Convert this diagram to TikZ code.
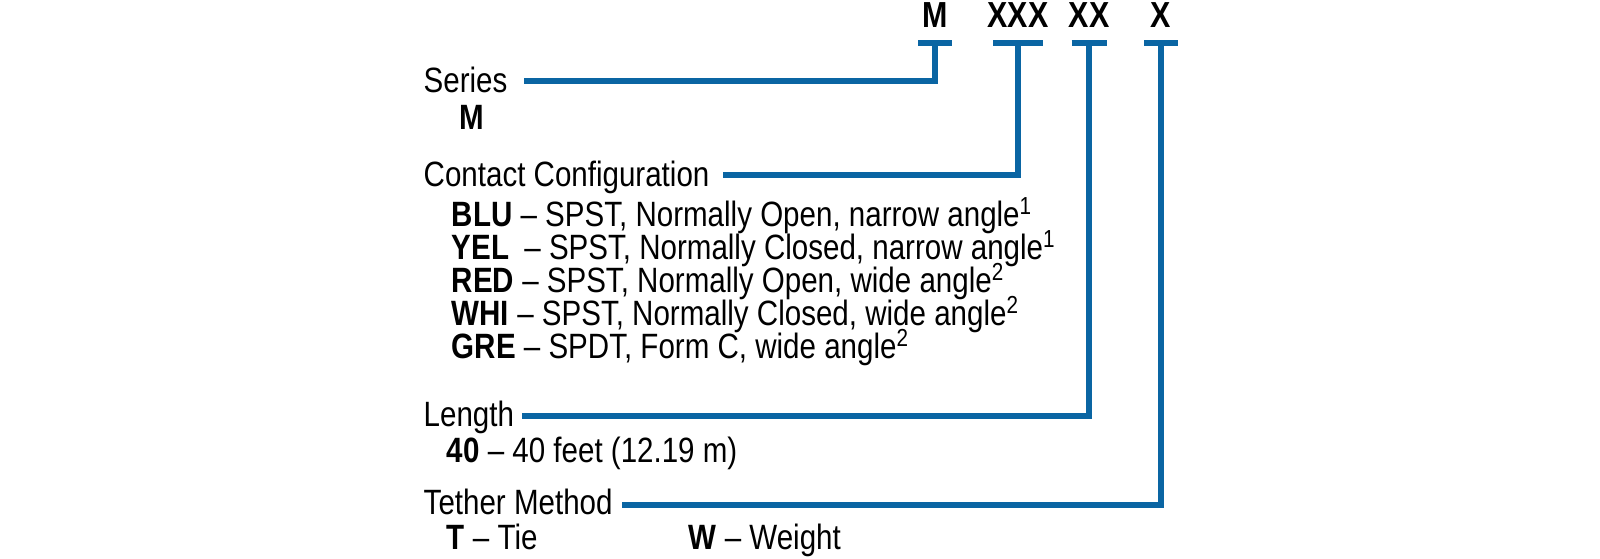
\documentclass[tikz,border=0pt]{standalone}
\usepackage{fontspec}
\setmainfont{Liberation Sans}[FakeStretch=0.84]
\usepackage{xcolor}
\usepackage{tikz}
\usetikzlibrary{positioning,calc}

\definecolor{codeblue}{HTML}{0A65A3}

\begin{document}
\begin{tikzpicture}[
  x=0.01cm, y=-0.01cm,
  conn/.style={draw=codeblue, line width=1.9pt, line join=miter},
  code/.style={font=\fontsize{10.3}{12}\selectfont\bfseries, inner sep=0pt},
  head/.style={anchor=base west, inner sep=0pt, text height=7pt, text depth=1.8pt,
    font=\fontsize{10}{12}\selectfont},
  opt/.style={head}
]
  \useasboundingbox (0,0) rectangle (1600,559);

  % code letters
  \node[code] (cM) at (935,15) {M};
  \node[code] (cXXX) at (1018,15) {XXX};
  \node[code] (cXX) at (1089,15) {XX};
  \node[code] (cX) at (1161,15) {X};

  % tick bars under the code letters
  \foreach \n/\x/\w in {M/935/17, XXX/1018/25, XX/1089/17.5, X/1161/17} {
    \draw[conn] (\x-\w,43) -- (\x+\w,43);
    \coordinate (t\n) at (\x,43);
  }

  % field headings
  \node[head] (series) at (423,93) {Series};
  \node[head] (contact) at (423,187) {Contact Configuration};
  \node[head] (length) at (423,427) {Length};
  \node[head] (tether) at (423,515) {Tether Method};

  % options
  \node[opt] (oM) at (459,130) {\textbf{M}};
  \node[opt] (oBLU) at (451,227) {\textbf{BLU} -- SPST, Normally Open, narrow angle\textsuperscript{1}};
  \node[opt] (oYEL) at (451,260) {\textbf{YEL}\hspace{0.2em} -- SPST, Normally Closed, narrow angle\textsuperscript{1}};
  \node[opt] (oRED) at (451,293) {\textbf{RED} -- SPST, Normally Open, wide angle\textsuperscript{2}};
  \node[opt] (oWHI) at (451,326) {\textbf{WHI} -- SPST, Normally Closed, wide angle\textsuperscript{2}};
  \node[opt] (oGRE) at (451,359) {\textbf{GRE} -- SPDT, Form C, wide angle\textsuperscript{2}};
  \node[opt] (o40) at (446,463) {\textbf{40} -- 40 feet (12.19 m)};
  \node[opt] (oT) at (446,550) {\textbf{T} -- Tie};
  \node[opt] (oW) at (688,550) {\textbf{W} -- Weight};

  % connectors
  \draw[conn] ([shift={(16,-12)}]series.base east) -| (tM);
  \draw[conn] ([shift={(13,-12)}]contact.base east) -| (tXXX);
  \draw[conn] ([shift={(7,-11)}]length.base east) -| (tXX);
  \draw[conn] ([shift={(9,-10)}]tether.base east) -| (tX);
\end{tikzpicture}
\end{document}
